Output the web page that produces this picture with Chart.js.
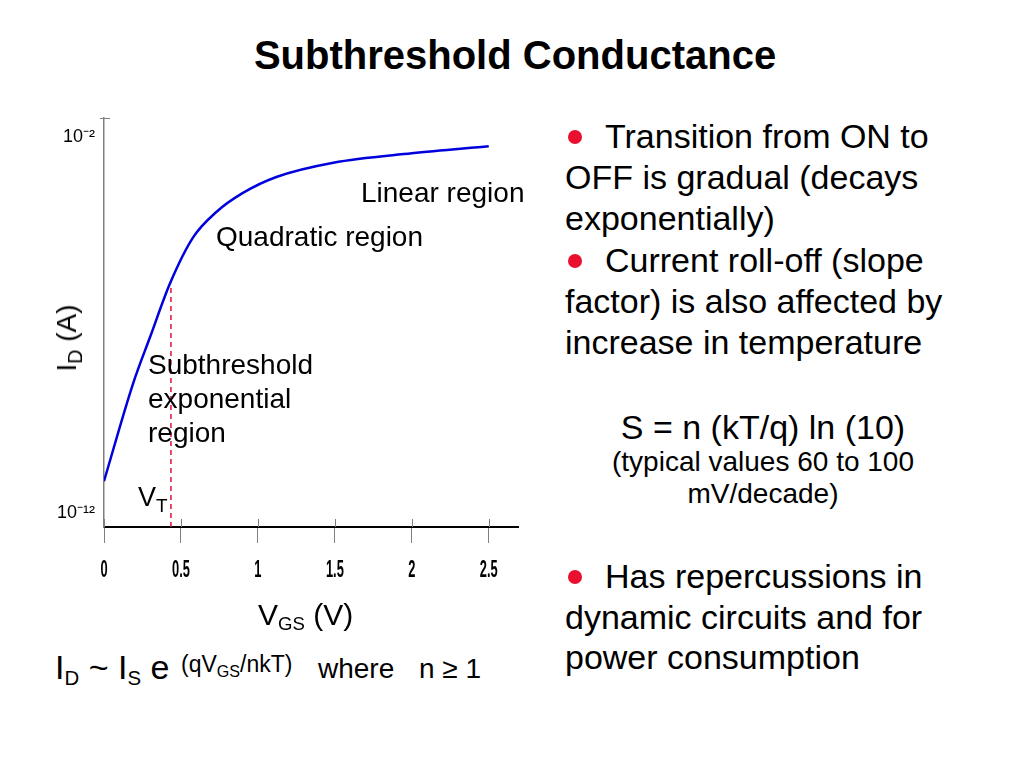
<!DOCTYPE html>
<html>
<head>
<meta charset="utf-8">
<script src="https://cdn.jsdelivr.net/npm/chart.js@4"></script>
<style>
  body { margin: 0; background: #fff; }
  #page { position: relative; width: 1024px; height: 768px; overflow: hidden;
          font-family: 'Liberation Sans', Arial, sans-serif; color: #000; }
  #chart-box { position: absolute; left: 0; top: 0; width: 540px; height: 600px; }
  .t { position: absolute; white-space: nowrap; }
  .sub { font-size: 0.7em; position: relative; top: 0.3em; }
  .dot { display: inline-block; width: 14px; height: 14px; border-radius: 50%;
         background: #e8102e; margin: 0 23px 0 3px; vertical-align: 4px; }
</style>
</head>
<body>
<div id="page">
  <div class="t" style="left:0;width:1030px;text-align:center;top:31px;font-size:40px;line-height:48px;font-weight:bold;">Subthreshold Conductance</div>

  <div id="chart-box"><canvas id="id-chart"></canvas></div>

  <!-- labels inside the plot -->
  <div class="t" style="left:361px;top:177px;font-size:28px;line-height:32px;">Linear region</div>
  <div class="t" style="left:216px;top:221px;font-size:28px;line-height:32px;">Quadratic region</div>
  <div class="t" style="left:148px;top:348px;font-size:28px;line-height:34px;">Subthreshold<br>exponential<br>region</div>
  <div class="t" style="left:138px;top:481px;font-size:27px;line-height:32px;">V<span class="sub">T</span></div>

  <!-- axis titles -->
  <div class="t" style="left:68px;top:338px;font-size:28px;line-height:32px;transform:translate(-50%,-50%) rotate(-90deg);">I<span class="sub">D</span> (A)</div>
  <div class="t" style="left:258px;top:598px;font-size:30px;line-height:34px;">V<span class="sub" style="font-size:0.62em;top:0.25em;">GS</span> (V)</div>

  <!-- formula under the chart -->
  <div class="t" style="left:55px;top:647px;font-size:34px;line-height:40px;">I<span class="sub" style="font-size:0.6em;">D</span> ~ I<span class="sub" style="font-size:0.6em;">S</span> e</div>
  <div class="t" style="left:181px;top:651px;font-size:23px;line-height:26px;">(qV<span class="sub">GS</span>/nkT)</div>
  <div class="t" style="left:318px;top:652px;font-size:28px;line-height:34px;">where</div>
  <div class="t" style="left:419px;top:652px;font-size:28px;line-height:34px;">n &ge; 1</div>

  <!-- right side text -->
  <div class="t" style="left:565px;top:116px;font-size:34px;line-height:41.2px;">
    <span class="dot"></span>Transition from ON to<br>OFF is gradual (decays<br>exponentially)<br>
    <span class="dot"></span>Current roll-off (slope<br>factor) is also affected by<br>increase in temperature
  </div>
  <div class="t" style="left:563px;width:400px;text-align:center;top:407px;font-size:34px;line-height:40px;">S = n (kT/q) ln (10)</div>
  <div class="t" style="left:563px;width:400px;text-align:center;top:446px;font-size:28px;line-height:32px;">(typical values 60 to 100<br>mV/decade)</div>
  <div class="t" style="left:565px;top:556px;font-size:34px;line-height:40.5px;">
    <span class="dot"></span>Has repercussions in<br>dynamic circuits and for<br>power consumption
  </div>
</div>

<script>
// V_GS in volts and log10 of I_D in amps
const vgs   = [0, 0.19, 0.30, 0.43, 0.58, 0.73, 0.90, 1.12, 1.49, 2.0, 2.5];
const logId = [-11.15, -8.54, -7.31, -5.88, -4.66, -3.99, -3.49, -3.06, -2.68, -2.43, -2.24];

// threshold voltage marker
const vtValue = 0.435;
const vtTopLogId = -5.9;

// axis ranges and ticks
const xMin = 0, xMax = 2.69;
const yMin = -12.37, yMax = -1.49;
const xTickValues = [0, 0.5, 1, 1.5, 2, 2.5];
const yTickValues = [-12, -2];
const yTickLabels = ['10\u207B\u00B9\u00B2', '10\u207B\u00B2'];

const curvePoints = vgs.map((v, i) => ({ x: v, y: logId[i] }));
const vtPoints = [{ x: vtValue, y: yMin }, { x: vtValue, y: vtTopLogId }];

// x labels in the original are a squeezed bold face, drawn here by hand
const narrowTicks = {
  id: 'narrowTicks',
  afterDraw(chart) {
    const c = chart.ctx;
    const xs = chart.scales.x;
    const ys = chart.scales.y;
    c.save();
    c.strokeStyle = '#808080';
    c.lineWidth = 1;
    xs.ticks.forEach(t => {
      const px = Math.round(xs.getPixelForValue(t.value)) + 0.5;
      c.beginPath();
      c.moveTo(px, xs.top - 8);
      c.lineTo(px, xs.top);
      c.stroke();
    });
    // small tick on top of the y axis
    c.beginPath();
    c.moveTo(ys.right - 4, ys.top + 0.5);
    c.lineTo(ys.right + 6, ys.top + 0.5);
    c.stroke();

    c.fillStyle = '#000';
    c.font = "bold 23px 'Liberation Sans', Arial, sans-serif";
    c.textAlign = 'center';
    c.textBaseline = 'alphabetic';
    xs.ticks.forEach(t => {
      c.save();
      c.translate(xs.getPixelForValue(t.value), 577);
      c.scale(0.56, 1);
      c.fillText(String(t.value), 0, 0);
      c.restore();
    });
    c.restore();
  }
};

const ctx = document.getElementById('id-chart').getContext('2d');
new Chart(ctx, {
  type: 'line',
  data: {
    datasets: [
      {
        data: curvePoints,
        borderColor: 'rgb(0,0,220)',
        borderWidth: 2.5,
        pointRadius: 0,
        cubicInterpolationMode: 'monotone',
        fill: false
      },
      {
        data: vtPoints,
        borderColor: '#e0103a',
        borderWidth: 1.5,
        borderDash: [5, 4],
        pointRadius: 0,
        fill: false
      }
    ]
  },
  options: {
    responsive: true,
    maintainAspectRatio: false,
    animation: false,
    layout: { padding: { top: 118, left: 0, right: 22, bottom: 0 } },
    plugins: {
      legend: { display: false },
      tooltip: { enabled: false }
    },
    scales: {
      x: {
        type: 'linear',
        min: xMin,
        max: xMax,
        afterBuildTicks: axis => { axis.ticks = xTickValues.map(v => ({ value: v })); },
        afterFit: axis => { axis.height = 73; },
        ticks: { display: false },
        grid: { drawOnChartArea: false, tickLength: 16, color: '#808080', lineWidth: 1 },
        border: { color: '#000', width: 2 }
      },
      y: {
        type: 'linear',
        min: yMin,
        max: yMax,
        afterBuildTicks: axis => { axis.ticks = yTickValues.map(v => ({ value: v })); },
        afterFit: axis => { axis.width = 104; },
        ticks: {
          color: '#000',
          padding: 9,
          font: { family: "'Liberation Sans', Arial, sans-serif", size: 18 },
          callback: v => yTickLabels[yTickValues.indexOf(v)]
        },
        grid: { drawOnChartArea: false, drawTicks: false },
        border: { color: '#808080', width: 1.5 }
      }
    }
  },
  plugins: [narrowTicks]
});
</script>
</body>
</html>
